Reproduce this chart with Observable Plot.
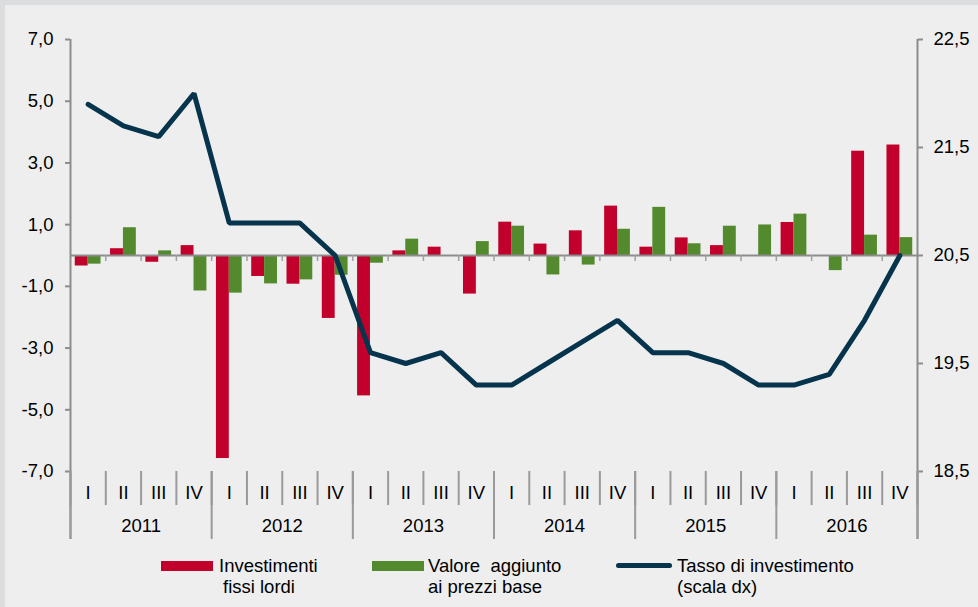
<!DOCTYPE html>
<html>
<head>
<meta charset="utf-8">
<script src="https://cdn.jsdelivr.net/npm/d3@7"></script>
<script src="https://cdn.jsdelivr.net/npm/@observablehq/plot@0.6"></script>
<style>
  html, body { margin: 0; padding: 0; }
  body { width: 978px; height: 607px; background: #dcdddf; position: relative; overflow: hidden;
         font-family: "Liberation Sans", Arial, sans-serif; color: #000; }
  #panel { position: absolute; left: 5px; top: 5px; right: 0; bottom: 0; background: #eeeeee; }
  #chart { position: absolute; left: 0; top: 0; }
  .lg { position: absolute; font-size: 18.5px; line-height: 21px; white-space: pre; color: #000; }
  .sw { position: absolute; }
</style>
</head>
<body>
<div id="panel"></div>
<div id="chart"></div>
<div class="sw" style="left:161px;top:561px;width:52px;height:10px;background:#c1002b"></div>
<div class="lg" style="left:219px;top:555px">Investimenti</div>
<div class="lg" style="left:223px;top:576px">fissi lordi</div>
<div class="sw" style="left:372px;top:561px;width:52px;height:10px;background:#548a2e"></div>
<div class="lg" style="left:428px;top:555px">Valore  aggiunto</div>
<div class="lg" style="left:428px;top:576px">ai prezzi base</div>
<div class="sw" style="left:616px;top:563px;width:56px;height:5px;border-radius:3px;background:#06344c"></div>
<div class="lg" style="left:677px;top:555px">Tasso di investimento</div>
<div class="lg" style="left:677px;top:576px">(scala dx)</div>
<script>
const years = ["2011", "2012", "2013", "2014", "2015", "2016"];
const quarters = ["I", "II", "III", "IV"];
const investimenti = [-0.34, 0.22, -0.22, 0.32, -6.58, -0.68, -0.93, -2.04, -4.55, 0.15, 0.27, -1.25,
                      1.08, 0.37, 0.80, 1.60, 0.27, 0.57, 0.32, 0, 1.07, 0, 3.38, 3.58];
const valore = [-0.28, 0.90, 0.15, -1.15, -1.22, -0.92, -0.79, -0.64, -0.25, 0.53, 0, 0.45,
                0.95, -0.63, -0.31, 0.85, 1.56, 0.38, 0.95, 0.99, 1.34, -0.49, 0.66, 0.58];
const tasso = [21.9, 21.7, 21.6, 22.0, 20.8, 20.8, 20.8, 20.5, 19.6, 19.5, 19.6, 19.3,
               19.3, 19.5, 19.7, 19.9, 19.6, 19.6, 19.5, 19.3, 19.3, 19.4, 19.9, 20.5];
const leftTicks = [7, 5, 3, 1, -1, -3, -5, -7];
const rightTicks = [22.5, 21.5, 20.5, 19.5, 18.5];

// right scale mapping onto left units
const rBase = 20.5, rFactor = 3.5;
const toLeft = r => (r - rBase) * rFactor;
const fmt = v => v.toFixed(1).replace(".", ",");

const rows = [];
years.forEach((y, yi) => quarters.forEach((q, qi) => {
  const i = yi * 4 + qi;
  rows.push({i, year: y, q, inv: investimenti[i], va: valore[i], tasso: tasso[i]});
}));
const n = rows.length;
const qBounds = d3.range(0, n + 1);
const yBounds = d3.range(0, n + 1, 4);
const yearRows = years.map((y, k) => ({year: y, c: k * 4 + 2}));

const W = 978, H = 548, mL = 70, mR = 61, mT = 39, mB = 77;
const ppu = (H - mT - mB) / 14;   // pixels per left unit
const bw = 0.365;                   // bar width in quarter units
const grey = "#8c8c8c";
const fs = 18.5;

const chart = Plot.plot({
  width: W, height: H,
  marginLeft: mL, marginRight: mR, marginTop: mT, marginBottom: mB,
  style: {background: "transparent", fontFamily: "'Liberation Sans', Arial, sans-serif", fontSize: fs + "px", color: "#000", overflow: "visible"},
  x: {type: "linear", domain: [0, n], axis: null},
  y: {domain: [-7, 7], axis: null},
  marks: [
    Plot.rectY(rows, {x1: d => d.i + 0.5 - bw, x2: d => d.i + 0.5, y1: 0, y2: "inv", fill: "#c1002b"}),
    Plot.rectY(rows, {x1: d => d.i + 0.5, x2: d => d.i + 0.5 + bw, y1: 0, y2: "va", fill: "#548a2e"}),
    // zero line and small ticks below it
    Plot.ruleY([0], {x1: 0, x2: n, stroke: grey, strokeWidth: 2}),
    Plot.ruleX(qBounds.slice(1, -1), {x: d => d, y1: 0, y2: -6 / ppu, stroke: "#a0a0a0", strokeWidth: 1.5}),
    // left axis
    Plot.ruleX([0], {y1: 7, y2: -7 - 68 / ppu, stroke: grey, strokeWidth: 2}),
    Plot.axisY(leftTicks, {anchor: "left", tickSize: 5, tickPadding: 12, stroke: grey, strokeWidth: 2, fill: "#000",
      tickFormat: fmt, label: null, fontSize: fs}),
    // right axis
    Plot.ruleX([n], {y1: 7, y2: -7 - 68 / ppu, stroke: grey, strokeWidth: 2}),
    Plot.axisY(rightTicks.map(toLeft), {anchor: "right", tickSize: 5, tickPadding: 11, stroke: grey, strokeWidth: 2, fill: "#000",
      tickFormat: v => fmt(v / rFactor + rBase), label: null, fontSize: fs}),
    // category separators
    Plot.ruleX(qBounds, {x: d => d, y1: -7, y2: -7 - 34 / ppu, stroke: "#9a9a9a", strokeWidth: 2}),
    Plot.ruleX(yBounds, {x: d => d, y1: -7, y2: -7 - 68 / ppu, stroke: "#9a9a9a", strokeWidth: 2}),
    Plot.text(rows, {x: d => d.i + 0.5, y: -7, dy: 22, text: "q", fill: "#000", fontSize: fs}),
    Plot.text(yearRows, {x: "c", y: -7, dy: 55, text: "year", fill: "#000", fontSize: fs}),
    // line on right scale
    Plot.line(rows, {x: d => d.i + 0.5, y: d => toLeft(d.tasso), stroke: "#06344c", strokeWidth: 5,
      strokeLinejoin: "miter", strokeLinecap: "round"})
  ]
});
document.getElementById("chart").appendChild(chart);
</script>
</body>
</html>
